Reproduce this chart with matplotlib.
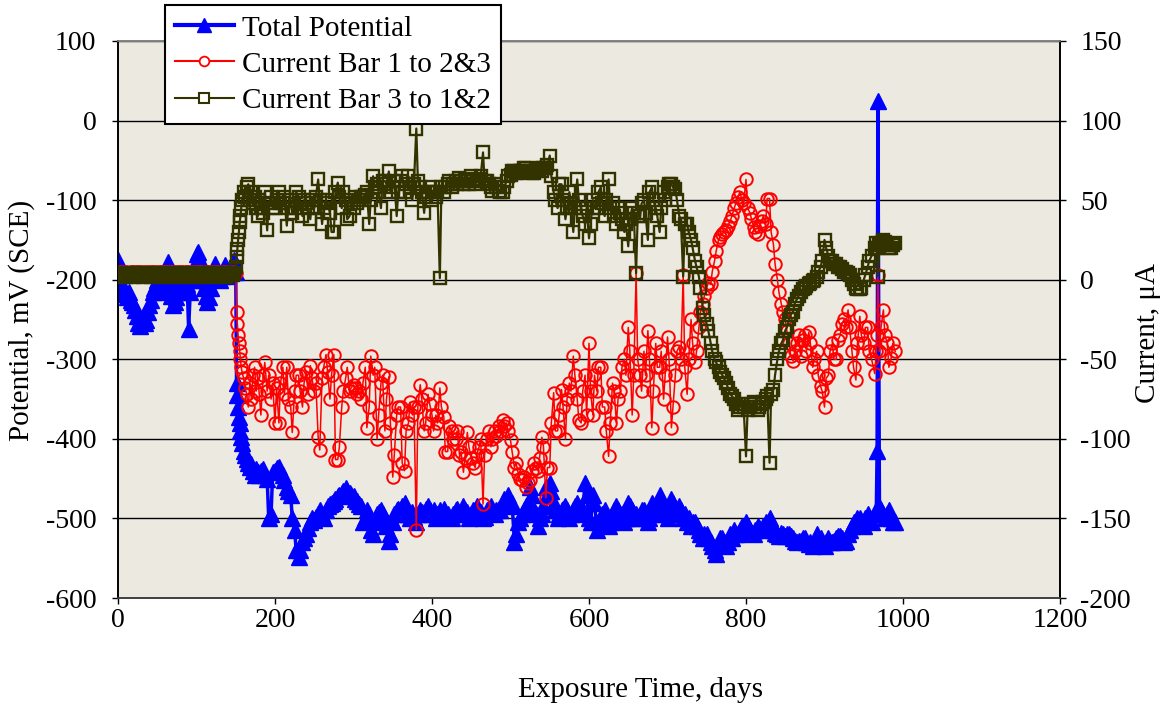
import matplotlib
matplotlib.use("Agg")
import matplotlib.pyplot as plt
from matplotlib.lines import Line2D

# Measurement days (shared by all three series)
days = [
    0, 2, 4, 6, 8, 10, 12, 14, 16, 18,
    20, 22, 24, 26, 28, 30, 32, 34, 36, 38,
    40, 42, 44, 46, 48, 50, 52, 54, 56, 58,
    60, 62, 64, 66, 68, 70, 72, 74, 76, 78,
    80, 82, 84, 86, 88, 90, 92, 94, 96, 98,
    100, 102, 104, 106, 108, 110, 112, 114, 116, 118,
    120, 122, 124, 126, 128, 130, 132, 134, 136, 138,
    140, 142, 144, 146, 148,
    150,
    151, 152, 153, 154, 155, 156, 157, 158, 160, 162, 164, 166, 168, 170, 172, 174, 176, 178,
    180, 182, 185, 187, 190, 192, 195, 197, 200, 202,
    205, 207, 210, 212, 215, 217, 220, 222, 225, 227,
    230, 232, 235, 237, 240, 242, 245, 247, 250, 252,
    255, 257, 260, 262, 265, 267, 270, 272, 275, 277,
    280, 282, 285, 287, 290, 292, 295, 297, 300, 302,
    305, 307, 310, 312, 315, 317, 320, 322, 325, 327,
    330, 332, 335, 337, 340, 342, 345, 347, 350, 352,
    355, 357, 360, 362, 365, 367, 370, 372, 375, 377,
    380, 382, 385, 387, 390, 392, 395, 397, 400, 402,
    405, 407, 410, 412, 415, 417, 420, 422, 425, 427,
    430, 432, 435, 437, 440, 442, 445, 447, 450, 452,
    455, 457, 460, 462, 465, 467, 470, 472, 475, 477,
    480, 482, 485, 487, 490, 492, 495, 497, 500, 502,
    505, 507, 510, 512, 515, 517, 520, 522, 525, 527,
    530, 532, 535, 537, 540, 542, 545, 547, 550, 552,
    555, 557, 560, 562, 565, 567, 570, 572, 575, 577,
    580, 582, 585, 587, 590, 592, 595, 597, 600, 602,
    605, 607, 610, 612, 615, 617, 620, 622, 625, 627,
    630, 632, 635, 637, 640, 642, 645, 647, 650, 652,
    655, 657, 660, 662, 665, 667, 670, 672, 675, 677,
    680, 682, 685, 687, 690, 692, 695, 697, 700, 702,
    705, 707, 710, 712, 715, 717, 720, 722, 725, 727,
    730, 732, 735, 737, 740, 742, 745, 747, 750, 752,
    755, 757, 760, 762, 765, 767, 770, 772, 775, 777,
    780, 782, 785, 787, 790, 792, 795, 797, 800, 802,
    805, 807, 810, 812, 815, 817, 820, 822, 825, 827,
    830, 832, 835, 837, 840, 842, 845, 847, 850, 852,
    855, 857, 860, 862, 865, 867, 870, 872, 875, 877,
    880, 882, 885, 887, 890, 892, 895, 897, 900, 902,
    905, 907, 910, 912, 915, 917, 920, 922, 925, 927,
    930, 932, 935, 937, 940, 942, 945, 947, 950, 952,
    955, 957, 960,
    964, 966, 967, 968, 970, 972, 975, 977, 980, 982, 985, 987, 990,
]

# Total potential, mV vs SCE (left axis)
total_potential = [
    -175, -200, -208, -212, -215, -218, -222, -215, -225, -228,
    -232, -238, -245, -255, -258, -250, -245, -255, -250, -240,
    -232, -225, -215, -210, -205, -200, -205, -208, -212, -215,
    -205, -195, -178, -200, -220, -232, -228, -222, -215, -208,
    -202, -200, -195, -198, -205, -262, -215, -200, -190, -180,
    -168, -165, -175, -185, -200, -210, -220, -228, -222, -210,
    -198, -185, -180, -188, -195, -200, -195, -188, -182, -190,
    -195, -190, -185, -180, -175,
    -190,
    -330, -345, -360, -372, -380, -390, -398, -405, -415, -420, -425, -430, -435, -432, -440, -445, -438, -442,
    -445, -440, -438, -445, -450, -500, -495, -442, -440, -436,
    -435, -440, -445, -452, -460, -465, -470, -500, -515, -540,
    -548, -540, -530, -525, -520, -512, -505, -500, -502, -498,
    -495, -490, -495, -500, -490, -485, -482, -480, -478, -475,
    -472, -470, -468, -465, -462, -465, -468, -470, -472, -475,
    -478, -482, -485, -505, -500, -490, -495, -515, -520, -505,
    -495, -492, -490, -495, -500, -510, -528, -520, -505, -495,
    -490, -488, -495, -485, -480, -490, -495, -500, -492, -498,
    -505, -495, -490, -492, -495, -488, -485, -490, -495, -490,
    -500, -495, -490, -495, -488, -492, -495, -498, -500, -495,
    -490, -488, -495, -492, -485, -490, -492, -500, -495, -490,
    -490, -485, -495, -492, -500, -498, -490, -488, -485, -490,
    -495, -490, -488, -490, -480, -475, -478, -470, -485, -480,
    -530, -520, -505, -500, -495, -490, -485, -480, -460, -470,
    -490, -495, -510, -500, -495, -485, -460, -470, -455, -465,
    -480, -490, -500, -495, -490, -488, -485, -490, -500, -495,
    -490, -485, -480, -488, -495, -490, -455, -470, -500, -505,
    -470, -480, -515, -505, -500, -495, -490, -500, -510, -505,
    -495, -490, -485, -490, -500, -495, -505, -500, -480, -485,
    -490, -495, -495, -500, -500, -490, -490, -495, -505, -500,
    -480, -490, -495, -490, -470, -480, -490, -495, -500, -490,
    -475, -480, -495, -490, -485, -490, -500, -495, -505, -500,
    -510, -505, -505, -510, -515, -520, -525, -520, -520, -525,
    -530, -535, -540, -545, -530, -525, -525, -530, -535, -530,
    -520, -525, -515, -520, -520, -515, -510, -515, -505, -510,
    -515, -518, -520, -515, -510, -512, -515, -510, -505, -508,
    -500, -505, -515, -518, -520, -522, -518, -520, -522, -520,
    -520, -522, -525, -528, -530, -528, -528, -525, -525, -530,
    -532, -530, -535, -530, -520, -525, -525, -530, -535, -530,
    -525, -530, -530, -528, -525, -522, -522, -525, -530, -528,
    -520, -515, -510, -505, -505, -500, -500, -505, -510, -500,
    -495, -500, -505,
    -495, -490, -415, 25, -485, -490, -495, -500, -495, -490, -500, -505, -505,
]

# Current from bar 1 to bars 2&3, microamps (right axis)
current_bar1 = [
    4, 5, 5, 4, 5, 5, 4, 4, 5, 5,
    5, 4, 5, 5, 5, 4, 5, 4, 5, 5,
    4, 5, 5, 5, 4, 5, 4, 5, 5, 5,
    5, 4, 5, 5, 5, 5, 4, 5, 4, 5,
    5, 5, 4, 5, 5, 5, 4, 5, 4, 5,
    4, 5, 5, 5, 4, 4, 5, 5, 5, 4,
    5, 4, 5, 5, 5, 4, 4, 5, 5, 4,
    5, 4, 5, 5, 5,
    4,
    -20, -28, -35, -40, -45, -50, -55, -58, -62, -68, -72, -80, -65, -75, -60, -55, -70, -62,
    -72, -85, -60, -52, -70, -60, -75, -65, -90, -68,
    -90, -65, -55, -72, -55, -75, -80, -96, -70, -60,
    -60, -70, -80, -65, -58, -72, -54, -62, -70, -65,
    -99, -107, -62, -55, -47, -58, -75, -60, -47, -113,
    -113, -105, -80, -70, -62, -55, -70, -68, -66, -68,
    -72, -70, -75, -65, -55, -93, -80, -48, -60, -55,
    -100, -85, -65, -60, -95, -75, -61, -90, -124, -110,
    -85, -80, -80, -115, -120, -95, -90, -77, -85, -80,
    -157, -80, -66, -75, -95, -90, -72, -78, -85, -95,
    -85, -90, -68, -80, -86, -108, -108, -92, -95, -100,
    -100, -95, -110, -108, -121, -112, -96, -105, -112, -115,
    -118, -110, -105, -100, -141, -110, -100, -95, -105, -100,
    -95, -98, -92, -95, -88, -92, -90, -95, -101, -108,
    -118, -115, -122, -125, -126, -124, -130, -128, -126, -120,
    -115, -118, -120, -112, -99, -105, -137, -118, -118, -90,
    -71, -95, -95, -85, -69, -80, -100, -75, -65, -70,
    -48, -60, -75, -88, -90, -70, -60, -85, -40, -70,
    -85, -60, -70, -55, -55, -80, -80, -95, -111, -90,
    -65, -70, -90, -75, -70, -55, -50, -60, -30, -45,
    -85, -60, 4, -50, -60, -70, -45, -60, -32, -50,
    -93, -70, -40, -55, -55, -45, -75, -60, -36, -50,
    -93, -80, -60, -45, -42, -50, 3, -55, -72, -50,
    -25, -40, -52, -45, -30, -20, -15, -10, -5, -2,
    -3, 5, 12, 18, 25, 27, 29, 30, 31, 34,
    37, 40, 45, 48, 52, 55, 50, 48, 63, 45,
    42, 38, 33, 30, 29, 34, 37, 40, 35, 51,
    51, 30, 22, 10, 0, -8, -15, -20, -25, -32,
    -40, -48, -51, -45, -40, -35, -48, -38, -35, -45,
    -33, -40, -55, -50, -45, -60, -67, -70, -80, -62,
    -60, -45, -40, -50, -50, -38, -35, -28, -25, -30,
    -19, -30, -45, -55, -63, -40, -23, -35, -40, -30,
    -30, -45, -50,
    -59, -45, -35, 3, -45, -30, -19, -35, -40, -55, -49, -40, -45,
]

# Current from bar 3 to bars 1&2, microamps (right axis)
current_bar3 = [
    3, 2, 3, 4, 3, 2, 3, 3, 4, 3,
    2, 3, 3, 4, 3, 3, 2, 3, 4, 3,
    3, 2, 3, 3, 4, 3, 3, 2, 3, 4,
    3, 3, 2, 3, 3, 4, 3, 3, 2, 3,
    4, 3, 3, 2, 3, 3, 4, 3, 3, 3,
    2, 3, 4, 3, 3, 2, 3, 3, 4, 3,
    3, 4, 3, 3, 2, 3, 4, 3, 3, 2,
    3, 4, 3, 3, 4,
    8,
    14, 19, 25, 30, 36, 40, 45, 50, 55, 52, 58, 60, 50, 55, 48, 52, 45, 40,
    50, 45, 42, 55, 31, 48, 52, 45, 45, 50,
    55, 48, 48, 52, 34, 45, 50, 42, 45, 55,
    52, 48, 40, 50, 48, 45, 38, 50, 45, 52,
    63, 50, 35, 45, 50, 48, 42, 30, 30, 55,
    61, 52, 45, 55, 50, 38, 40, 48, 45, 52,
    48, 50, 52, 52, 53, 55, 35, 50, 65, 58,
    60, 55, 45, 62, 62, 60, 68, 55, 58, 62,
    40, 55, 62, 65, 55, 60, 65, 58, 50, 60,
    95, 62, 58, 55, 42, 52, 55, 58, 50, 55,
    52, 55, 1, 58, 55, 58, 60, 62, 58, 60,
    62, 60, 64, 62, 60, 63, 62, 60, 65, 62,
    60, 62, 63, 65, 80, 62, 62, 60, 58, 56,
    60, 58, 56, 55, 55, 58, 62, 65, 66, 68,
    68, 67, 67, 68, 68, 70, 70, 68, 68, 67,
    67, 68, 69, 70, 68, 70, 70, 72, 78, 65,
    55, 50, 45, 60, 60, 50, 38, 45, 55, 48,
    30, 45, 63, 50, 45, 40, 35, 45, 26, 35,
    50, 45, 45, 55, 58, 48, 40, 50, 63, 45,
    48, 40, 35, 45, 42, 38, 30, 35, 21, 38,
    45, 42, 4, 40, 40, 48, 50, 42, 25, 55,
    58, 50, 45, 40, 30, 45, 55, 50, 58, 60,
    60, 58, 57, 50, 40, 38, 2, 35, 35, 30,
    25, 20, 12, 8, 2, -5, -18, -22, -28, -32,
    -40, -45, -50, -52, -55, -58, -60, -62, -65, -68,
    -72, -73, -75, -78, -82, -80, -78, -80, -111, -82,
    -80, -78, -77, -80, -82, -80, -78, -77, -75, -73,
    -115, -72, -69, -60, -50, -45, -40, -38, -32, -30,
    -25, -22, -20, -15, -12, -10, -8, -6, -5, -4,
    -3, -2, -1, 0, 2, 5, 8, 12, 25, 20,
    15, 12, 12, 10, 10, 8, 8, 7, 5, 5,
    4, 3, 0, -3, -5, -6, -6, -5, 0, 3,
    8, 12, 15,
    20, 23, 20, 2, 22, 23, 25, 24, 22, 20, 20, 22, 23,
]

x_ticks = [0, 200, 400, 600, 800, 1000, 1200]
left_ticks = [-600, -500, -400, -300, -200, -100, 0, 100]
right_ticks = [-200, -150, -100, -50, 0, 50, 100, 150]

series_names = ["Total Potential", "Current Bar 1 to 2&3", "Current Bar 3 to 1&2"]

BLUE = "#0000FF"
RED = "#FF0000"
OLIVE = "#333300"
TICK_FS = 20
LABEL_FS = 21

plt.rcParams['font.family'] = ['Liberation Serif', 'DejaVu Serif']
plt.rcParams['axes.unicode_minus'] = False

fig = plt.figure(figsize=(11.69, 7.15), dpi=100)
ax = fig.add_axes([118 / 1169, 1 - 598 / 715, 942 / 1169, 557 / 715])
ax.set_facecolor('#ECEAE0')
ax2 = ax.twinx()

ax.plot(days, total_potential, color=BLUE, lw=2.5, marker='^', ms=11,
        mfc=BLUE, mec=BLUE, zorder=3)
ax2.plot(days, current_bar1, color=RED, lw=1.1, marker='o', ms=9,
         mfc='none', mec=RED, mew=1.4, zorder=3)
ax2.plot(days, current_bar3, color=OLIVE, lw=1.6, marker='s', ms=8.5,
         mfc='none', mec=OLIVE, mew=1.7, zorder=4)

ax.set_xlim(0, 1200)
ax.set_ylim(-600, 100)
ax2.set_ylim(-200, 150)
ax.set_xticks(x_ticks)
ax.set_yticks(left_ticks)
ax2.set_yticks(right_ticks)

ax.yaxis.grid(True, color='black', lw=1.0)
ax.set_axisbelow(True)

for a in (ax, ax2):
    a.tick_params(direction='out', width=1, labelsize=TICK_FS, colors='black')
    a.spines['top'].set_color('#808080')
    a.spines['bottom'].set_color('#404040')
    a.spines['left'].set_color('black')
    a.spines['right'].set_color('black')
    for s in a.spines.values():
        s.set_linewidth(1.2)
ax.tick_params(axis='x', length=4.5, pad=3)
ax.tick_params(axis='y', length=4.5, pad=11)
ax2.tick_params(axis='y', length=4.5, pad=10)

fig.text(640 / 1169, 1 - 690 / 715, "Exposure Time, days", fontsize=LABEL_FS,
         ha='center', va='center')
fig.text(22 / 1169, 1 - 320 / 715, "Potential, mV (SCE)", fontsize=LABEL_FS,
         ha='center', va='center', rotation=90)
fig.text(1148 / 1169, 1 - 333 / 715, "Current, μA", fontsize=LABEL_FS,
         ha='center', va='center', rotation=90)

handles = [
    Line2D([], [], color=BLUE, lw=3, marker='^', ms=10, mfc=BLUE, mec=BLUE),
    Line2D([], [], color=RED, lw=1.5, marker='o', ms=7, mfc='white', mec=RED, mew=1.3),
    Line2D([], [], color=OLIVE, lw=1.5, marker='s', ms=7, mfc='white', mec=OLIVE, mew=1.5),
]
leg = fig.legend(handles, series_names, loc='upper left',
                 bbox_to_anchor=(165 / 1169, 1 - 5 / 715), fontsize=LABEL_FS,
                 frameon=True, fancybox=False, edgecolor='black', framealpha=1,
                 handlelength=2.0, handletextpad=0.3, labelspacing=0.33,
                 borderpad=0.35, borderaxespad=0)
leg.get_frame().set_linewidth(1.5)

fig.savefig("out.png", dpi=100, facecolor='white')
